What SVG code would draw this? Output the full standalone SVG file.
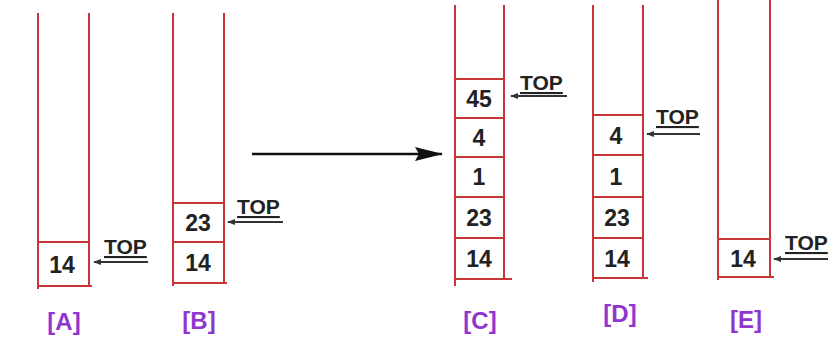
<svg xmlns="http://www.w3.org/2000/svg" width="828" height="338" viewBox="0 0 828 338">
  <style>
    .wall { stroke: #c8363a; stroke-width: 2; fill: none; }
    .num { font-family: "Liberation Sans", Arial, sans-serif; font-weight: bold; font-size: 23px; fill: #222; text-anchor: middle; }
    .top { font-family: "Liberation Sans", Arial, sans-serif; font-weight: bold; font-size: 21px; fill: #222; text-decoration: underline; }
    .lab { font-family: "Liberation Sans", Arial, sans-serif; font-weight: bold; font-size: 24px; fill: #9036d0; text-anchor: middle; }
    .ptr { stroke: #333; stroke-width: 2; fill: none; marker-end: url(#head-small); }
    .big { stroke: #111; stroke-width: 2.5; fill: none; marker-end: url(#head-big); }
  </style>
  <defs>
    <marker id="head-small" viewBox="0 0 10 10" refX="9" refY="5" markerWidth="4" markerHeight="4" orient="auto" markerUnits="strokeWidth">
      <path d="M0,1 L10,5 L0,9 z" fill="#333"/>
    </marker>
    <marker id="head-big" viewBox="0 0 28 14" refX="27" refY="7" markerWidth="28" markerHeight="14" orient="auto" markerUnits="userSpaceOnUse">
      <path d="M0,0 L28,7 L0,14 L4,7 z" fill="#111"/>
    </marker>
  </defs>
  <rect width="828" height="338" fill="#fff"/>

  <!-- Stack A -->
  <g id="stack-a">
    <path class="wall" d="M38,13 V289 M89,13 V286 M38,286 H92 M38,242 H89"/>
    <text class="num" x="62" y="273">14</text>
    <text class="top" x="104" y="254">TOP</text>
    <text class="lab" x="64" y="330">[A]</text>
  </g>

  <!-- Stack B -->
  <g id="stack-b">
    <path class="wall" d="M173,13 V286 M224,13 V283 M173,283 H227 M173,203 H224 M173,242 H224"/>
    <text class="num" x="198" y="231">23</text>
    <text class="num" x="198" y="271">14</text>
    <text class="top" x="237" y="214">TOP</text>
    <text class="lab" x="199" y="329">[B]</text>
  </g>

  <!-- Stack C -->
  <g id="stack-c">
    <path class="wall" d="M455,5 V286 M504,5 V279 M455,279 H512 M455,79 H504 M455,118 H504 M455,157 H504 M455,197 H504 M455,238 H504"/>
    <text class="num" x="479" y="107">45</text>
    <text class="num" x="479" y="146">4</text>
    <text class="num" x="479" y="185">1</text>
    <text class="num" x="479" y="226">23</text>
    <text class="num" x="479" y="267">14</text>
    <text class="top" x="520" y="90">TOP</text>
    <text class="lab" x="480" y="329">[C]</text>
  </g>

  <!-- Stack D -->
  <g id="stack-d">
    <path class="wall" d="M593,5 V282 M643,5 V278 M593,278 H648 M593,115 H643 M593,155 H643 M593,197 H643 M593,238 H643"/>
    <text class="num" x="616" y="144">4</text>
    <text class="num" x="616" y="185">1</text>
    <text class="num" x="617" y="226">23</text>
    <text class="num" x="617" y="267">14</text>
    <text class="top" x="656" y="124">TOP</text>
    <text class="lab" x="620" y="322">[D]</text>
  </g>

  <!-- Stack E -->
  <g id="stack-e">
    <path class="wall" d="M718,0 V280 M770,0 V277 M718,277 H774 M718,239 H770"/>
    <text class="num" x="743" y="267">14</text>
    <text class="top" x="785" y="250">TOP</text>
    <text class="lab" x="746" y="328">[E]</text>
  </g>

  <!-- Connectors -->
  <g id="connectors">
    <line class="ptr" x1="148" y1="262" x2="94" y2="262"/>
    <line class="ptr" x1="283" y1="222" x2="228" y2="222"/>
    <line class="ptr" x1="567" y1="96" x2="511" y2="96"/>
    <line class="ptr" x1="700" y1="134" x2="647" y2="134"/>
    <line class="ptr" x1="828" y1="259" x2="774" y2="259"/>
    <line class="big" x1="252" y1="154" x2="442" y2="154"/>
  </g>
</svg>
